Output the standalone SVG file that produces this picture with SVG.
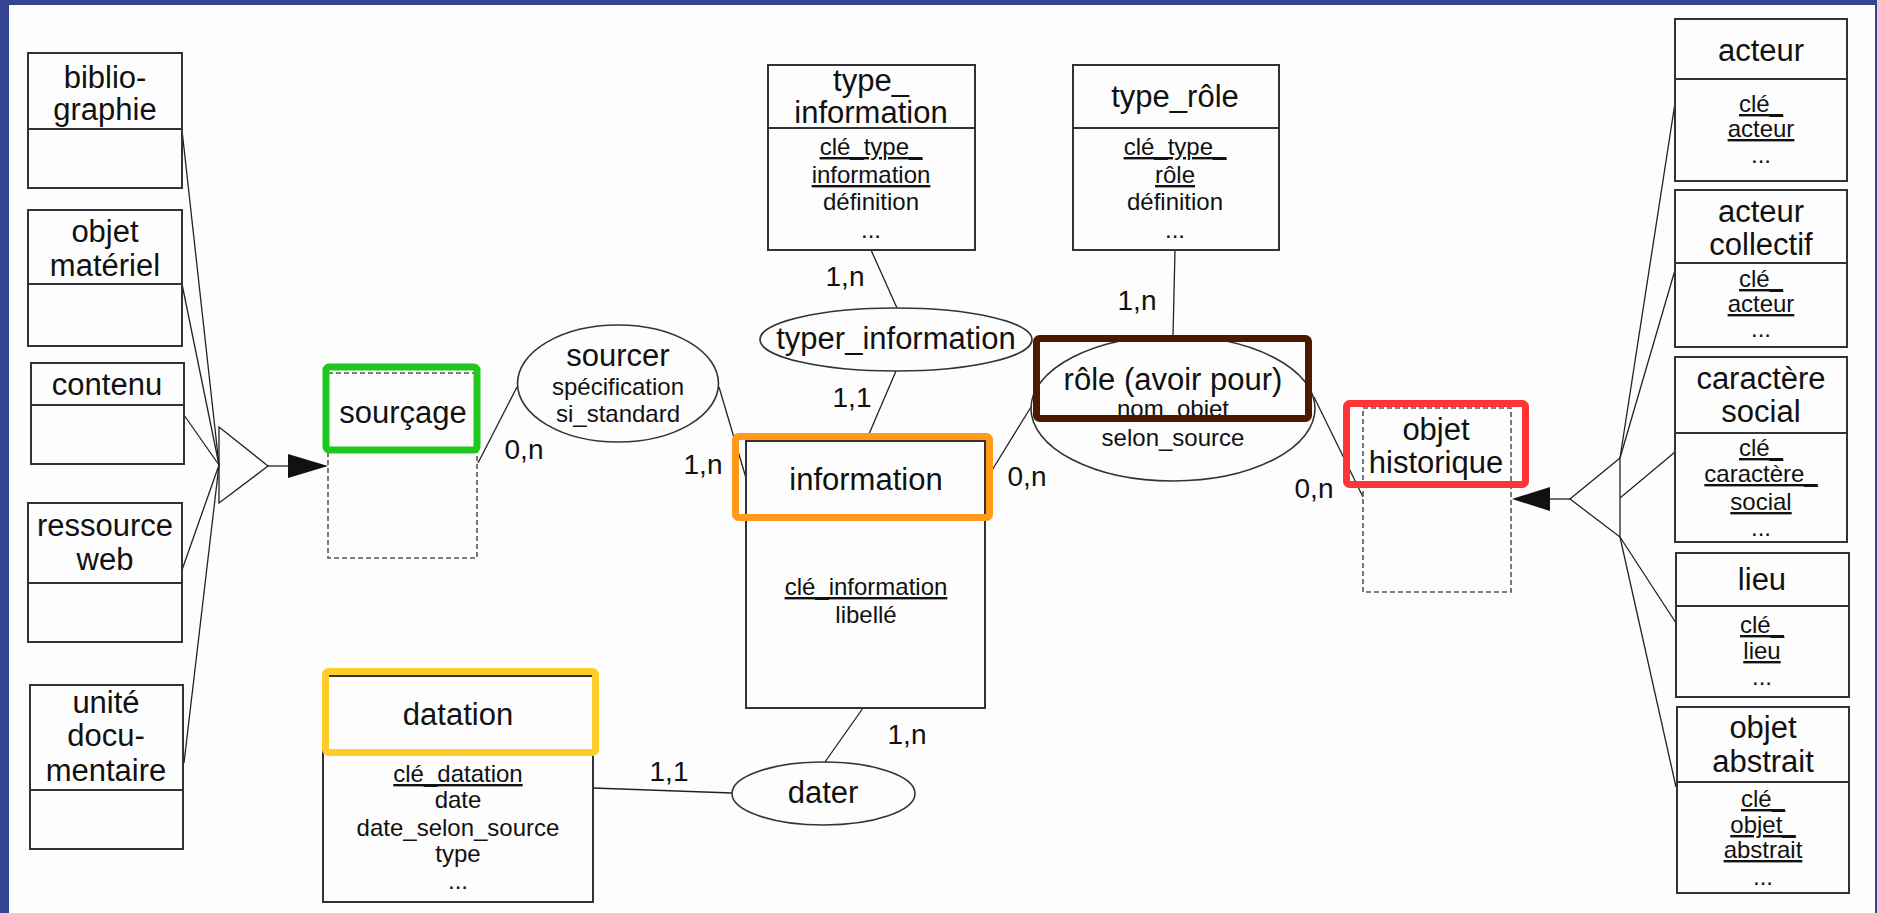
<svg xmlns="http://www.w3.org/2000/svg" width="1877" height="913" viewBox="0 0 1877 913">
<style>
.bx{fill:none;stroke:#333;stroke-width:2}
.dash{fill:none;stroke:#555;stroke-width:1.6;stroke-dasharray:5 3}
.el{fill:none;stroke:#333;stroke-width:1.6}
.ln{fill:none;stroke:#222;stroke-width:1.3}
.nm{font-family:"Liberation Sans",Arial,sans-serif;font-size:31px;fill:#111;text-anchor:middle}
.at{font-family:"Liberation Sans",Arial,sans-serif;font-size:24px;fill:#111;text-anchor:middle}
.u{text-decoration:underline}
.cd{font-family:"Liberation Sans",Arial,sans-serif;font-size:28px;fill:#111;text-anchor:middle}
.hl{fill:none;stroke-width:7}
</style>
<rect x="0" y="0" width="1877" height="913" fill="#33458f"/>
<rect x="9" y="5" width="1866" height="908" fill="#fdfdfd"/>

<g id="connectors">
<line class="ln" x1="182" y1="130" x2="219" y2="465"/>
<line class="ln" x1="182" y1="284" x2="219" y2="465"/>
<line class="ln" x1="184" y1="415" x2="219" y2="465"/>
<line class="ln" x1="182" y1="570" x2="219" y2="465"/>
<line class="ln" x1="184" y1="763" x2="219" y2="465"/>
<polygon class="ln" points="219,427 268,466 219,503"/>
<line class="ln" x1="268" y1="466" x2="290" y2="466"/>
<polygon points="288,454 328,466 288,478" fill="#111"/>
<line class="ln" x1="1675" y1="103" x2="1620" y2="458"/>
<line class="ln" x1="1675" y1="270" x2="1620" y2="458"/>
<line class="ln" x1="1675" y1="452" x2="1620" y2="498"/>
<line class="ln" x1="1676" y1="623" x2="1620" y2="537"/>
<line class="ln" x1="1676" y1="787" x2="1620" y2="537"/>
<polygon class="ln" points="1620,458 1570,499 1620,537"/>
<line class="ln" x1="1570" y1="499" x2="1548" y2="499"/>
<polygon points="1550,487 1512,499 1550,511" fill="#111"/>
<line class="ln" x1="517" y1="387" x2="478" y2="463"/>
<line class="ln" x1="719" y1="387" x2="746" y2="478"/>
<line class="ln" x1="871" y1="250" x2="897" y2="308"/>
<line class="ln" x1="896" y1="371" x2="866" y2="441"/>
<line class="ln" x1="1175" y1="250" x2="1173" y2="336"/>
<line class="ln" x1="1031" y1="407" x2="986" y2="480"/>
<line class="ln" x1="1314" y1="397" x2="1363" y2="497"/>
<line class="ln" x1="863" y1="708" x2="825" y2="762"/>
<line class="ln" x1="593" y1="788" x2="732" y2="793"/>
<text class="cd" x="524" y="459">0,n</text>
<text class="cd" x="703" y="474">1,n</text>
<text class="cd" x="845" y="286">1,n</text>
<text class="cd" x="852" y="407">1,1</text>
<text class="cd" x="1137" y="310">1,n</text>
<text class="cd" x="1027" y="486">0,n</text>
<text class="cd" x="1314" y="498">0,n</text>
<text class="cd" x="907" y="744">1,n</text>
<text class="cd" x="669" y="781">1,1</text>
</g>

<g id="bibliographie">
<rect class="bx" x="28" y="53" width="154" height="135"/>
<line class="bx" x1="28" y1="129" x2="182" y2="129"/>
<text class="nm" x="105" y="88">biblio-</text>
<text class="nm" x="105" y="120">graphie</text>
</g>
<g id="objet_materiel">
<rect class="bx" x="28" y="210" width="154" height="136"/>
<line class="bx" x1="28" y1="284" x2="182" y2="284"/>
<text class="nm" x="105" y="242">objet</text>
<text class="nm" x="105" y="276">matériel</text>
</g>
<g id="contenu">
<rect class="bx" x="31" y="363" width="153" height="101"/>
<line class="bx" x1="31" y1="405" x2="184" y2="405"/>
<text class="nm" x="107" y="395">contenu</text>
</g>
<g id="ressource_web">
<rect class="bx" x="28" y="503" width="154" height="139"/>
<line class="bx" x1="28" y1="583" x2="182" y2="583"/>
<text class="nm" x="105" y="536">ressource</text>
<text class="nm" x="105" y="570">web</text>
</g>
<g id="unite_documentaire">
<rect class="bx" x="30" y="685" width="153" height="164"/>
<line class="bx" x1="30" y1="790" x2="183" y2="790"/>
<text class="nm" x="106" y="713">unité</text>
<text class="nm" x="106" y="746">docu-</text>
<text class="nm" x="106" y="781">mentaire</text>
</g>

<g id="sourcage">
<rect class="dash" x="328" y="373" width="149" height="185"/>
<text class="nm" x="403" y="423">sourçage</text>
<rect class="hl" x="326" y="367" width="151" height="83" rx="3" stroke="#1fc81f"/>
</g>

<g id="sourcer">
<ellipse class="el" cx="618" cy="383.5" rx="100.5" ry="58.5"/>
<text class="nm" x="618" y="366">sourcer</text>
<text class="at" x="618" y="395">spécification</text>
<text class="at" x="618" y="422">si_standard</text>
</g>

<g id="type_information">
<rect class="bx" x="768" y="65" width="207" height="185"/>
<line class="bx" x1="768" y1="128" x2="975" y2="128"/>
<text class="nm" x="871" y="91">type_</text>
<text class="nm" x="871" y="123">information</text>
<text class="at u" x="871" y="155">clé_type_</text>
<text class="at u" x="871" y="183">information</text>
<text class="at" x="871" y="210">définition</text>
<text class="at" x="871" y="238">...</text>
</g>

<g id="typer_information">
<ellipse class="el" cx="896" cy="339.5" rx="136" ry="31.5"/>
<text class="nm" x="896" y="349">typer_information</text>
</g>

<g id="information">
<rect class="bx" x="746" y="441" width="239" height="267"/>
<line class="bx" x1="746" y1="517" x2="985" y2="517"/>
<text class="nm" x="866" y="490">information</text>
<text class="at u" x="866" y="595">clé_information</text>
<text class="at" x="866" y="623">libellé</text>
<rect class="hl" x="735.5" y="436.5" width="254" height="81" rx="3" stroke="#ff9a1a"/>
</g>

<g id="datation">
<rect class="bx" x="323" y="676" width="270" height="226"/>
<line class="bx" x1="323" y1="752" x2="593" y2="752"/>
<text class="nm" x="458" y="725">datation</text>
<text class="at u" x="458" y="782">clé_datation</text>
<text class="at" x="458" y="808">date</text>
<text class="at" x="458" y="836">date_selon_source</text>
<text class="at" x="458" y="862">type</text>
<text class="at" x="458" y="889">...</text>
<rect class="hl" x="325.5" y="671.5" width="270" height="81" rx="3" stroke="#ffcd29"/>
</g>

<g id="dater">
<ellipse class="el" cx="823.5" cy="793.5" rx="91.5" ry="31.5"/>
<text class="nm" x="823" y="803">dater</text>
</g>

<g id="type_role">
<rect class="bx" x="1073" y="65" width="206" height="185"/>
<line class="bx" x1="1073" y1="128" x2="1279" y2="128"/>
<text class="nm" x="1175" y="107">type_rôle</text>
<text class="at u" x="1175" y="155">clé_type_</text>
<text class="at u" x="1175" y="183">rôle</text>
<text class="at" x="1175" y="210">définition</text>
<text class="at" x="1175" y="238">...</text>
</g>

<g id="role">
<ellipse class="el" cx="1173" cy="408.5" rx="142" ry="72.5"/>
<text class="nm" x="1173" y="390">rôle (avoir pour)</text>
<text class="at" x="1173" y="417">nom_objet</text>
<text class="at" x="1173" y="446">selon_source</text>
<rect class="hl" x="1036.5" y="338.5" width="272" height="80" rx="3" stroke="#4d1a00"/>
</g>

<g id="objet_historique">
<rect class="dash" x="1363" y="408" width="148" height="184"/>
<text class="nm" x="1436" y="440">objet</text>
<text class="nm" x="1436" y="473">historique</text>
<rect class="hl" x="1346.5" y="403.5" width="179" height="81" rx="3" stroke="#ff3535"/>
</g>

<g id="acteur">
<rect class="bx" x="1675" y="19" width="172" height="162"/>
<line class="bx" x1="1675" y1="79" x2="1847" y2="79"/>
<text class="nm" x="1761" y="61">acteur</text>
<text class="at u" x="1761" y="112">clé_</text>
<text class="at u" x="1761" y="137">acteur</text>
<text class="at" x="1761" y="163">...</text>
</g>
<g id="acteur_collectif">
<rect class="bx" x="1675" y="190" width="172" height="157"/>
<line class="bx" x1="1675" y1="263" x2="1847" y2="263"/>
<text class="nm" x="1761" y="222">acteur</text>
<text class="nm" x="1761" y="255">collectif</text>
<text class="at u" x="1761" y="287">clé_</text>
<text class="at u" x="1761" y="312">acteur</text>
<text class="at" x="1761" y="337">...</text>
</g>
<g id="caractere_social">
<rect class="bx" x="1675" y="357" width="172" height="185"/>
<line class="bx" x1="1675" y1="433" x2="1847" y2="433"/>
<text class="nm" x="1761" y="389">caractère</text>
<text class="nm" x="1761" y="422">social</text>
<text class="at u" x="1761" y="456">clé_</text>
<text class="at u" x="1761" y="482">caractère_</text>
<text class="at u" x="1761" y="510">social</text>
<text class="at" x="1761" y="536">...</text>
</g>
<g id="lieu">
<rect class="bx" x="1676" y="553" width="173" height="144"/>
<line class="bx" x1="1676" y1="606" x2="1849" y2="606"/>
<text class="nm" x="1762" y="590">lieu</text>
<text class="at u" x="1762" y="633">clé_</text>
<text class="at u" x="1762" y="659">lieu</text>
<text class="at" x="1762" y="685">...</text>
</g>
<g id="objet_abstrait">
<rect class="bx" x="1677" y="707" width="172" height="186"/>
<line class="bx" x1="1677" y1="782" x2="1849" y2="782"/>
<text class="nm" x="1763" y="738">objet</text>
<text class="nm" x="1763" y="772">abstrait</text>
<text class="at u" x="1763" y="807">clé_</text>
<text class="at u" x="1763" y="833">objet_</text>
<text class="at u" x="1763" y="858">abstrait</text>
<text class="at" x="1763" y="885">...</text>
</g>
</svg>
